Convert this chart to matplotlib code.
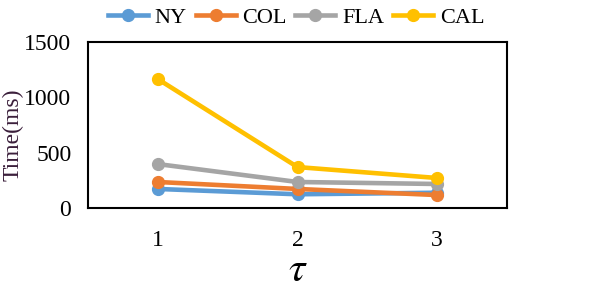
from matplotlib import pyplot as plt

tau = [1, 2, 3]
ny = [172, 124, 138]
col = [235, 172, 117]
fla = [397, 235, 217]
cal = [1165, 370, 271]

series = [('NY', ny, '#5b9bd5'), ('COL', col, '#ed7d31'),
          ('FLA', fla, '#a5a5a5'), ('CAL', cal, '#ffc000')]

plt.rcParams['font.family'] = 'Liberation Serif'
plt.rcParams['mathtext.fontset'] = 'stix'

fig = plt.figure(figsize=(5.91, 2.96), dpi=100)
ax = fig.add_axes([88 / 591, 1 - 208 / 296, 419 / 591, 166 / 296])

for name, vals, color in series:
    ax.plot(tau, vals, color=color, lw=3.3, marker='o', ms=8.5, label=name)

ax.set_xlim(0.5, 3.5)
ax.set_ylim(0, 1500)
ax.set_xticks(tau)
ax.set_yticks([0, 500, 1000, 1500])
ax.tick_params(length=0, labelsize=17, pad=12)
ax.tick_params(axis='x', pad=16)
for s in ax.spines.values():
    s.set_linewidth(1.5)

ax.set_ylabel('Time(ms)', fontsize=17, color='#3b1f3b')
ax.yaxis.set_label_coords(-64 / 419, (208 - 135) / 166)
ax.set_xlabel(r'$\tau$', fontsize=30, labelpad=0)

fig.legend(loc='center', bbox_to_anchor=(296 / 591, 1 - 18 / 296), ncol=4,
           frameon=False, fontsize=16, handlelength=1.8,
           columnspacing=0.4, handletextpad=0.3)

fig.savefig('out.png', dpi=100)
